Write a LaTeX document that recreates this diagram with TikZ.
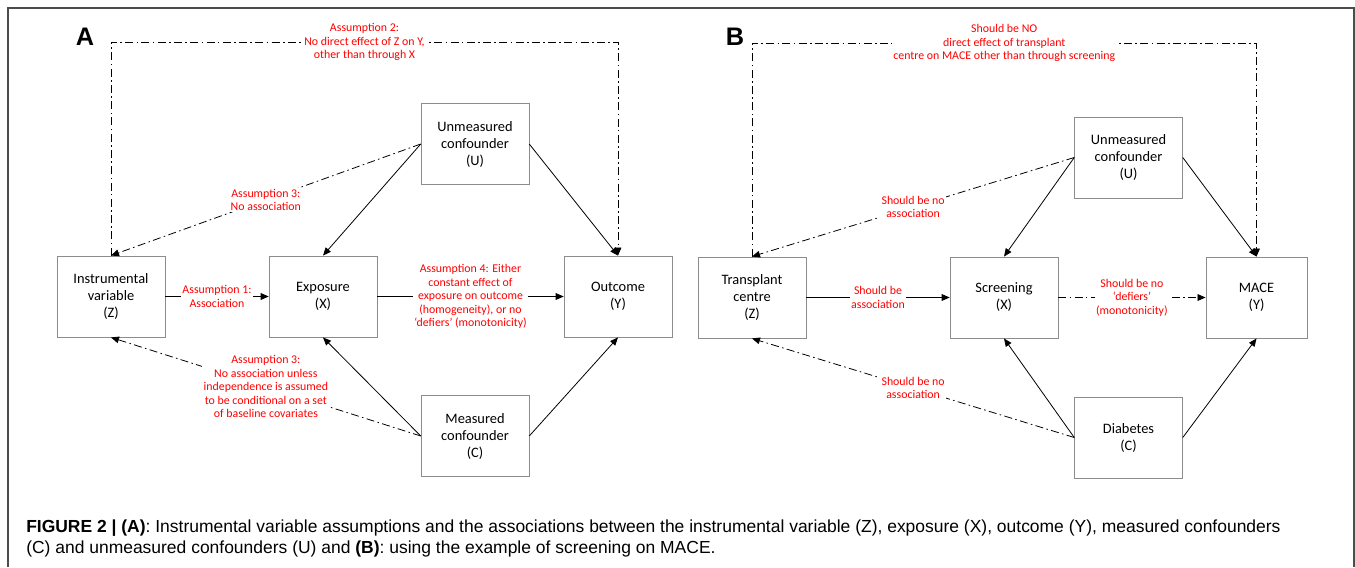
\documentclass[tikz,border=0pt]{standalone}
\usepackage{fontspec}
\setmainfont{Carlito}
\newfontfamily\capfont{Liberation Sans}
\usetikzlibrary{arrows.meta}

\begin{document}
\begin{tikzpicture}[
x=0.75pt, y=-0.75pt,
var/.style={draw=black!45, fill=white, minimum width=81pt, minimum height=61pt, align=center, font=\fontsize{10.8}{12.75}\selectfont},
lbl/.style={fill=white, inner sep=1pt, text=red, align=center, font=\fontsize{8.9}{10.2}\selectfont},
cause/.style={-{Triangle[length=6pt,width=5pt]}, line width=0.6pt},
ddot/.style={cause, dash pattern=on 6pt off 2.5pt on 1.2pt off 2.5pt},
panel/.style={font=\capfont\bfseries\fontsize{19}{19}\selectfont},
]
\useasboundingbox (0,0) rectangle (1355,567);
\draw[black!70, line width=1pt] (8,567) -- (8,8) -- (1354,8) -- (1354,567);

% panel A
\node[panel] (labA) at (85,37) {A};
\node[var] (instr) at (111,296.5) {Instrumental\\variable\\(Z)};
\node[var] (expo) at (323,296.5) {Exposure\\(X)};
\node[var] (outc) at (618,296.5) {Outcome\\(Y)};
\node[var] (unmeasA) at (475,144) {Unmeasured\\confounder\\(U)};
\node[var] (meas) at (475,436) {Measured\\confounder\\(C)};
\coordinate (topA) at (0,42);

\draw[cause] (instr) -- node[lbl]{Assumption 1:\\Association} (expo);
\draw[cause] (expo) -- node[lbl]{Assumption 4: Either\\constant effect of\\exposure on outcome\\(homogeneity), or no\\‘defiers’ (monotonicity)} (outc);
\draw[cause] (unmeasA.west) -- (expo.north);
\draw[cause] (unmeasA.east) -- (outc.north);
\draw[cause] (meas.west) -- (expo.south);
\draw[cause] (meas.east) -- (outc.south);
\draw[ddot] (unmeasA.west) -- node[lbl]{Assumption 3:\\No association} (instr.north);
\draw[ddot] (meas.west) -- node[lbl]{Assumption 3:\\No association unless\\independence is assumed\\to be conditional on a set\\of baseline covariates} (instr.south);
\draw[ddot] (instr.north) -- (instr.north |- topA) -- node[lbl]{Assumption 2:\\No direct effect of Z on Y,\\other than through X} (outc.north |- topA) -- (outc.north);

% panel B
\node[panel] (labB) at (735,37) {B};
\node[var] (centre) at (752,297.5) {Transplant\\centre\\(Z)};
\node[var] (screen) at (1004,297.5) {Screening\\(X)};
\node[var, minimum width=76pt] (mace) at (1256.5,297.5) {MACE\\(Y)};
\node[var] (unmeasB) at (1128.5,157.5) {Unmeasured\\confounder\\(U)};
\node[var] (diab) at (1128.5,437.5) {Diabetes\\(C)};
\coordinate (topB) at (0,43);

\draw[cause] (centre) -- node[lbl]{Should be\\association} (screen);
\draw[ddot] (screen) -- node[lbl]{Should be no\\‘defiers’\\(monotonicity)} (mace);
\draw[cause] (unmeasB.west) -- (screen.north);
\draw[cause] (unmeasB.east) -- (mace.north);
\draw[cause] (diab.west) -- (screen.south);
\draw[cause] (diab.east) -- (mace.south);
\draw[ddot] (unmeasB.west) -- node[lbl]{Should be no\\association} (centre.north);
\draw[ddot] (diab.west) -- node[lbl]{Should be no\\association} (centre.south);
\draw[ddot] (centre.north) -- (centre.north |- topB) -- node[lbl]{Should be NO\\direct effect of transplant\\centre on MACE other than through screening} (mace.north |- topB) -- (mace.north);

\node[anchor=west, inner sep=0pt, align=left, font=\capfont\fontsize{13.1}{15.75}\selectfont] (cap) at (26,538) {\textbf{FIGURE 2 | (A)}: Instrumental variable assumptions and the associations between the instrumental variable (Z), exposure (X), outcome (Y), measured confounders\\(C) and unmeasured confounders (U) and \textbf{(B)}: using the example of screening on MACE.};
\end{tikzpicture}
\end{document}
